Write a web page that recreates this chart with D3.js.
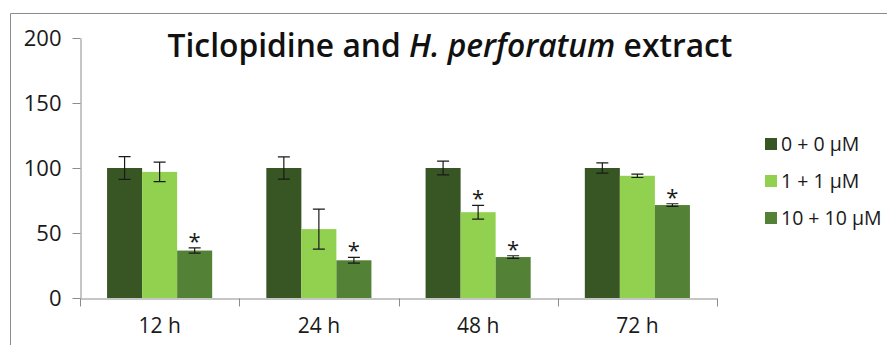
<!DOCTYPE html>
<html>
<head>
<meta charset="utf-8">
<script src="https://cdn.jsdelivr.net/npm/d3@7"></script>
<style>
  body { margin: 0; background: #fff; }
  svg { display: block; font-family: 'Open Sans', sans-serif; }
</style>
</head>
<body>
<svg id="chart" width="887" height="345"></svg>
<script>
const categories = ['12 h', '24 h', '48 h', '72 h']
const seriesNames = ['0 + 0 µM', '1 + 1 µM', '10 + 10 µM']
const values0 = [100, 100, 100, 100]
const values1 = [97, 53, 66, 94]
const values2 = [36.5, 29, 31.5, 71.5]
const errors0 = [8.7, 8.5, 5.3, 4]
const errors1 = [7.5, 15.4, 5.3, 1.3]
const errors2 = [2, 2.2, 1, 1]
const signif0 = [false, false, false, false]
const signif1 = [false, false, true, false]
const signif2 = [true, true, true, true]
const yTicks = [0, 50, 100, 150, 200]

const colors = ['#375623', '#92d050', '#538135']
const width = 887
const height = 345
const margin = { top: 38, right: 170, bottom: 47, left: 80 }

const series = [
  { values: values0, errors: errors0, signif: signif0 },
  { values: values1, errors: errors1, signif: signif1 },
  { values: values2, errors: errors2, signif: signif2 },
]

const svg = d3.select('#chart')

/* frame */
svg.append('path')
  .attr('d', `M10.5,${height} V13.5 H${width}`)
  .attr('fill', 'none')
  .attr('stroke', '#8c8c8c')
  .attr('stroke-width', 1)

/* scales */
const x = d3.scaleBand()
  .domain(categories)
  .range([margin.left, width - margin.right])
  .paddingInner(0.34)
  .paddingOuter(0.17)

const xInner = d3.scaleBand()
  .domain(d3.range(seriesNames.length))
  .range([0, x.bandwidth()])

const y = d3.scaleLinear()
  .domain([0, 200])
  .range([height - margin.bottom, margin.top])

/* y axis */
const yAxis = svg.append('g')
  .attr('transform', `translate(${margin.left}.5, 0)`)
  .call(d3.axisLeft(y).tickValues(yTicks).tickSize(8).tickSizeOuter(0).tickPadding(11))
yAxis.selectAll('path, line').attr('stroke', '#8c8c8c')
yAxis.selectAll('text').attr('font-size', 22).attr('fill', '#1a1a1a')
  .attr('font-family', "'Open Sans', sans-serif")

/* x axis */
const xAxis = svg.append('g')
  .attr('transform', `translate(0, ${y(0)}.5)`)
  .call(d3.axisBottom(x).tickSize(0).tickPadding(20))
xAxis.select('.domain').attr('stroke', '#8c8c8c')
xAxis.selectAll('text').attr('font-size', 21).attr('fill', '#1a1a1a')
  .attr('font-family', "'Open Sans', sans-serif")
xAxis.selectAll('.boundary')
  .data(d3.range(categories.length + 1))
  .join('line')
  .attr('class', 'boundary')
  .attr('x1', (i) => Math.round(x.range()[0] + i * x.step()) + 0.5)
  .attr('x2', (i) => Math.round(x.range()[0] + i * x.step()) + 0.5)
  .attr('y1', 0)
  .attr('y2', 8)
  .attr('stroke', '#8c8c8c')

/* bars */
series.forEach((s, si) => {
  const g = svg.append('g')
  categories.forEach((c, ci) => {
    const bx = x(c) + xInner(si)
    const bw = xInner.bandwidth()
    const cx = bx + bw / 2
    g.append('rect')
      .attr('x', bx)
      .attr('y', y(s.values[ci]))
      .attr('width', bw)
      .attr('height', y(0) - y(s.values[ci]))
      .attr('fill', colors[si])

    const top = y(s.values[ci] + s.errors[ci])
    const bot = y(s.values[ci] - s.errors[ci])
    g.append('path')
      .attr('d', `M${cx - 6},${top} H${cx + 6} M${cx},${top} V${bot} M${cx - 6},${bot} H${cx + 6}`)
      .attr('fill', 'none')
      .attr('stroke', '#1a1a1a')
      .attr('stroke-width', 1.2)

    if (s.signif[ci]) {
      g.append('text')
        .attr('x', cx)
        .attr('y', top + 1)
        .attr('text-anchor', 'middle')
        .attr('font-size', 22)
        .attr('fill', '#1a1a1a')
        .text('*')
    }
  })
})

/* title */
const title = svg.append('text')
  .attr('x', 450)
  .attr('y', 57)
  .attr('text-anchor', 'middle')
  .attr('font-size', 24)
  .attr('font-weight', 600)
  .attr('fill', '#111')
title.append('tspan').text('Ticlopidine and ')
title.append('tspan').attr('font-style', 'italic').text('H. perforatum')
title.append('tspan').text(' extract')
const tw = title.node().getComputedTextLength()
title.attr('font-size', 24 * 565 / tw)

/* legend */
const legendY = [144, 181, 218]
const legend = svg.append('g')
seriesNames.forEach((name, i) => {
  legend.append('rect')
    .attr('x', 765)
    .attr('y', legendY[i] - 6)
    .attr('width', 12)
    .attr('height', 12)
    .attr('fill', colors[i])
  legend.append('text')
    .attr('x', 781)
    .attr('y', legendY[i])
    .attr('dy', '0.36em')
    .attr('font-size', 19.5)
    .attr('fill', '#1a1a1a')
    .text(name)
})
</script>
</body>
</html>
